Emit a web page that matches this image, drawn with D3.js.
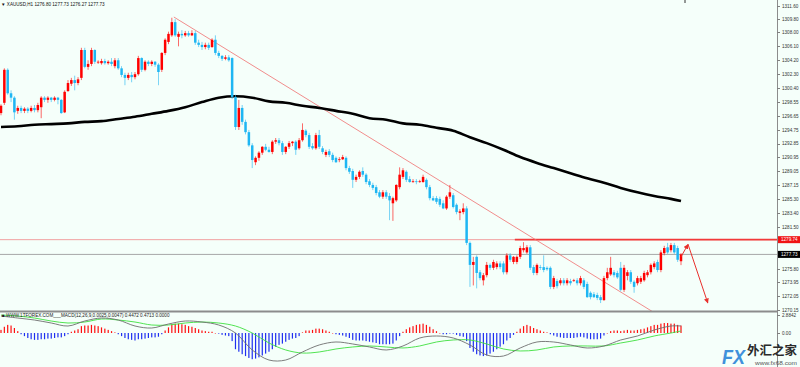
<!DOCTYPE html>
<html lang="en">
<head>
<meta charset="UTF-8">
<title>XAUUSD H1</title>
<script src="https://d3js.org/d3.v7.min.js"></script>
<style>
  body { margin: 0; background: #f5fffa; overflow: hidden; }
  svg { display: block; font-family: "Liberation Sans", Arial, sans-serif; }
  .axis path { display: none; }
  .axis line { stroke: #808080; shape-rendering: crispEdges; }
  .axis text { font-size: 4.6px; fill: #333; }
</style>
</head>
<body>
<div id="chart"></div>
<script>
// XAUUSD H1 bars (oldest first)
const open = [
1297.0,1298.4,1302.9,1299.7,1299.1,1297.3,1297.7,1297.3,1297.6,1297.3,
1297.7,1297.4,1297.8,1299.1,1298.8,1299.1,1298.8,1299.1,1298.8,1297.1,
1300.0,1301.0,1301.5,1301.1,1301.8,1305.6,1303.3,1303.7,1305.6,1304.0,
1303.8,1304.1,1303.8,1304.0,1303.4,1304.2,1303.1,1302.2,1301.8,1302.2,
1301.9,1302.3,1304.5,1302.9,1304.0,1303.7,1304.0,1303.6,1302.9,1305.2,
1306.7,1307.6,1309.4,1307.4,1307.8,1307.6,1307.9,1307.6,1307.9,1306.6,
1306.3,1306.0,1306.3,1306.0,1307.0,1305.2,1304.8,1304.4,1304.6,1304.5,
1299.2,1295.1,1297.7,1295.8,1294.4,1292.6,1290.3,1290.9,1291.6,1292.4,
1292.0,1291.7,1293.1,1293.3,1292.9,1291.7,1292.4,1292.9,1293.1,1292.2,
1293.3,1294.6,1294.0,1292.5,1292.2,1294.0,1292.2,1291.3,1291.8,1291.3,
1290.9,1290.6,1290.7,1290.9,1289.5,1289.1,1287.9,1288.3,1289.1,1288.6,
1287.7,1287.2,1286.9,1286.2,1285.6,1286.2,1285.7,1284.7,1285.1,1286.9,
1288.3,1289.0,1288.0,1287.7,1287.7,1287.6,1287.6,1287.9,1286.9,1285.4,
1285.4,1285.3,1284.7,1284.0,1285.6,1285.8,1284.5,1283.4,1283.5,1284.0,
1279.3,1276.3,1277.4,1275.3,1274.2,1274.9,1276.3,1275.9,1276.0,1276.5,
1276.5,1275.3,1277.6,1276.7,1276.7,1277.4,1278.3,1278.0,1278.7,1276.0,
1275.2,1276.0,1276.0,1275.9,1275.9,1273.3,1274.1,1273.8,1274.2,1273.8,
1274.1,1274.1,1274.2,1273.8,1274.2,1273.7,1272.5,1272.3,1272.2,1271.9,
1271.5,1274.5,1275.0,1275.3,1275.2,1275.9,1272.9,1274.8,1275.3,1274.0,
1273.8,1274.0,1274.2,1274.9,1275.3,1276.0,1276.7,1275.6,1277.9,1278.7,
1278.3,1279.0,1278.6,1276.8];
const high = [
1298.2,1303.1,1303.1,1300.1,1299.3,1298.0,1298.0,1297.8,1297.8,1298.0,
1298.1,1298.4,1299.3,1299.3,1299.3,1299.2,1299.3,1299.2,1298.9,1300.1,
1301.5,1301.8,1302.1,1301.9,1305.9,1305.9,1304.2,1305.9,1305.7,1304.2,
1304.4,1304.4,1304.2,1304.5,1304.5,1304.5,1303.4,1302.5,1302.5,1302.6,
1302.6,1304.8,1304.6,1304.2,1304.2,1304.2,1304.1,1303.8,1305.3,1307.2,
1308.1,1310.0,1309.8,1308.1,1308.3,1308.2,1308.2,1308.3,1308.2,1307.0,
1306.7,1306.6,1306.6,1307.2,1307.6,1305.5,1304.9,1304.9,1304.9,1304.6,
1299.5,1298.8,1298.1,1296.1,1294.7,1292.9,1291.1,1291.8,1292.5,1292.8,
1292.4,1293.3,1293.6,1293.6,1293.2,1292.5,1293.2,1293.2,1293.3,1293.6,
1295.6,1294.8,1294.3,1292.9,1294.3,1294.7,1292.5,1292.0,1292.1,1291.6,
1291.1,1291.0,1291.3,1291.1,1289.8,1289.4,1288.6,1289.2,1289.6,1288.8,
1288.0,1287.5,1287.2,1286.5,1286.5,1286.5,1286.1,1285.6,1287.3,1289.6,
1289.5,1289.2,1288.4,1288.0,1288.0,1287.9,1288.6,1288.1,1287.2,1285.7,
1285.7,1285.6,1285.1,1285.8,1287.2,1286.1,1284.7,1283.9,1284.7,1284.3,
1279.5,1277.4,1277.6,1275.6,1275.2,1276.7,1276.5,1277.0,1276.8,1276.8,
1276.8,1277.9,1277.9,1277.5,1277.6,1278.9,1279.4,1279.0,1279.0,1276.3,
1276.5,1276.3,1277.6,1276.1,1276.1,1274.8,1274.4,1274.5,1274.5,1274.5,
1274.4,1274.4,1274.5,1274.8,1274.5,1274.0,1272.7,1272.6,1272.5,1272.2,
1274.8,1275.9,1277.4,1275.6,1275.5,1276.7,1276.3,1275.6,1275.6,1274.2,
1274.8,1274.8,1275.5,1275.6,1276.5,1276.8,1277.0,1278.3,1278.9,1279.3,
1279.3,1279.3,1278.9,1277.9];
const low = [
1296.7,1298.1,1299.5,1298.5,1296.1,1296.9,1297.0,1297.0,1297.0,1297.1,
1297.1,1297.1,1296.3,1298.5,1298.4,1298.5,1298.6,1298.2,1296.9,1297.0,
1299.9,1300.7,1300.1,1300.8,1301.5,1303.1,1302.9,1303.4,1303.7,1303.7,
1303.6,1303.6,1303.6,1303.4,1303.1,1302.9,1301.9,1300.8,1301.5,1301.2,
1301.6,1302.1,1302.6,1302.7,1303.4,1303.4,1303.3,1300.8,1302.6,1304.9,
1306.4,1307.4,1307.4,1306.1,1307.2,1307.4,1307.4,1307.5,1306.3,1306.0,
1305.6,1305.7,1305.6,1305.9,1304.9,1304.5,1304.1,1304.2,1304.0,1298.9,
1294.7,1294.7,1295.4,1294.1,1292.4,1289.5,1289.9,1290.5,1291.3,1291.8,
1291.6,1291.4,1292.8,1292.6,1291.3,1291.4,1292.1,1292.5,1291.3,1292.0,
1293.1,1293.7,1292.1,1292.0,1292.0,1292.1,1291.4,1291.0,1291.0,1290.3,
1290.2,1290.3,1290.6,1289.2,1288.7,1286.8,1287.6,1288.0,1288.3,1287.3,
1286.9,1286.5,1285.8,1285.4,1285.3,1285.3,1282.4,1282.3,1284.9,1286.6,
1288.0,1287.6,1287.5,1287.5,1287.3,1287.5,1287.5,1286.6,1285.1,1285.0,
1284.6,1284.2,1283.9,1283.8,1285.3,1284.0,1283.2,1282.4,1283.2,1279.0,
1273.3,1273.5,1273.1,1274.2,1273.5,1274.6,1275.6,1275.6,1275.7,1275.7,
1275.0,1275.0,1276.7,1276.4,1276.4,1277.1,1278.0,1277.8,1275.6,1274.9,
1274.9,1275.6,1275.3,1275.5,1273.0,1273.0,1273.1,1273.5,1273.5,1273.5,
1273.5,1274.0,1273.5,1273.5,1273.0,1271.8,1271.6,1271.8,1271.5,1271.1,
1271.4,1274.2,1274.8,1274.6,1274.4,1272.7,1272.6,1274.2,1273.7,1272.5,
1273.5,1273.7,1274.0,1274.6,1275.0,1275.7,1275.3,1275.3,1277.6,1277.8,
1278.0,1277.8,1276.7,1276.27];
const close = [
1298.0,1302.9,1299.7,1299.1,1297.1,1297.7,1297.3,1297.6,1297.3,1297.7,
1297.4,1298.1,1299.1,1298.8,1299.1,1298.8,1299.1,1298.8,1297.0,1299.9,
1301.1,1301.5,1301.1,1301.6,1305.6,1303.3,1303.7,1305.6,1304.0,1304.0,
1304.1,1303.8,1304.0,1303.7,1304.2,1303.1,1302.2,1301.8,1302.2,1301.9,
1302.3,1304.5,1302.9,1304.0,1303.7,1304.0,1303.6,1302.6,1305.2,1307.0,
1307.8,1309.4,1307.6,1307.8,1307.6,1307.9,1307.6,1307.9,1306.6,1306.3,
1306.0,1306.3,1305.9,1307.0,1305.2,1304.8,1304.4,1304.6,1304.2,1299.2,
1295.1,1297.7,1295.8,1294.4,1292.6,1290.6,1290.9,1291.6,1292.4,1292.0,
1291.7,1293.1,1293.3,1292.9,1291.7,1292.4,1292.9,1293.1,1292.0,1293.3,
1294.7,1294.0,1292.4,1292.2,1294.0,1292.4,1291.7,1291.7,1291.3,1290.6,
1290.3,1290.7,1291.0,1289.5,1289.0,1287.9,1288.3,1289.0,1288.6,1287.6,
1287.2,1286.8,1286.1,1285.6,1286.2,1285.6,1285.1,1285.4,1287.2,1288.6,
1289.2,1287.9,1287.6,1287.7,1287.6,1287.7,1288.3,1286.9,1285.4,1285.1,
1284.9,1284.5,1284.0,1285.6,1286.2,1284.2,1283.5,1283.6,1284.0,1279.3,
1276.3,1276.7,1275.2,1274.5,1274.9,1276.3,1275.9,1276.7,1276.5,1276.0,
1275.3,1277.6,1277.0,1277.4,1277.4,1278.6,1278.6,1278.7,1275.9,1275.2,
1276.3,1275.9,1275.6,1275.7,1273.3,1274.5,1273.4,1274.2,1273.8,1274.2,
1273.8,1274.2,1273.8,1274.5,1273.3,1271.9,1271.9,1271.9,1271.8,1271.5,
1274.5,1275.3,1275.9,1274.9,1274.6,1272.9,1275.9,1275.3,1274.0,1273.3,
1274.5,1274.5,1275.2,1275.3,1276.3,1276.5,1275.6,1278.0,1278.6,1278.0,
1279.0,1278.0,1277.0,1277.73];

// moving average + MACD lines sampled at these bar indices
const lineIdx = [0,5,10,15,20,25,30,35,40,45,50,55,60,65,70,75,80,85,90,95,100,
  105,110,115,120,125,130,135,140,145,150,155,160,165,170,175,180,185,190,195,200,203];
const maValues = [1295.1,1295.2,1295.4,1295.5,1295.6,1295.8,1295.9,1296.2,1296.5,1296.9,
  1297.3,1297.8,1298.5,1299.1,1299.3,1299.1,1298.6,1298.4,1298.0,1297.7,1297.3,1296.9,
  1296.3,1296.1,1295.6,1295.4,1295.0,1294.6,1293.7,1292.9,1292.0,1291.0,1290.2,1289.5,
  1288.8,1288.1,1287.5,1286.8,1286.2,1285.7,1285.3,1285.0];
const macdMain = [2.72,2.40,2.08,1.60,1.12,1.92,2.40,2.08,1.12,0.80,1.44,1.92,1.76,1.28,
  0.00,-2.72,-4.33,-4.33,-3.04,-1.92,-1.44,-1.76,-2.24,-2.72,-2.08,-0.80,-0.48,-0.80,
  -1.92,-3.53,-3.69,-2.40,-1.44,-1.44,-1.92,-2.40,-2.08,-1.12,-0.48,0.48,1.12,1.12];
const macdSignal = [2.88,2.72,2.40,1.92,1.60,1.76,2.24,2.08,1.76,1.28,1.28,1.60,1.76,1.60,
  1.12,0.00,-1.60,-2.72,-3.21,-3.04,-2.56,-2.24,-2.08,-2.24,-2.40,-2.08,-1.44,-1.12,
  -1.12,-1.76,-2.56,-2.88,-2.72,-2.24,-2.08,-2.08,-2.08,-1.60,-1.12,-0.48,0.00,0.32];
const macdHist = [
0.5,1.0,1.3,1.2,0.8,0.3,-0.2,-0.5,-0.8,-1.0,
-1.1,-1.1,-1.0,-1.0,-0.9,-0.9,-0.8,-0.7,-0.7,-0.5,
-0.2,0.2,0.4,0.6,1.1,1.2,1.2,1.3,1.2,1.1,
0.9,0.7,0.5,0.3,0.1,-0.2,-0.5,-0.8,-1.0,-1.1,
-1.2,-1.0,-1.0,-0.9,-0.8,-0.7,-0.7,-0.6,-0.2,0.4,
0.9,1.4,1.5,1.5,1.4,1.3,1.1,1.0,0.8,0.6,
0.4,0.3,0.2,0.2,0.0,-0.1,-0.3,-0.4,-0.5,-1.3,
-2.6,-3.0,-3.4,-3.7,-4.0,-4.2,-4.1,-3.9,-3.6,-3.3,
-3.0,-2.6,-2.2,-1.9,-1.7,-1.4,-1.1,-0.9,-0.8,-0.5,
0.1,0.4,0.4,0.5,0.7,0.7,0.6,0.4,0.2,0.0,
-0.2,-0.3,-0.4,-0.6,-0.8,-1.1,-1.2,-1.2,-1.2,-1.3,
-1.4,-1.5,-1.6,-1.8,-1.8,-1.8,-1.8,-1.7,-1.2,-0.5,
0.2,0.6,0.9,1.1,1.3,1.4,1.5,1.3,1.0,0.6,
0.3,0.0,-0.2,-0.2,-0.1,-0.1,-0.3,-0.5,-0.6,-1.3,
-2.4,-3.0,-3.4,-3.6,-3.7,-3.6,-3.3,-3.0,-2.6,-2.2,
-1.8,-1.2,-0.8,-0.3,0.2,0.7,1.1,1.3,1.1,0.8,
0.6,0.4,0.2,0.1,-0.2,-0.4,-0.6,-0.7,-0.8,-0.8,
-0.8,-0.8,-0.7,-0.6,-0.7,-0.9,-1.0,-1.0,-1.0,-0.9,
-0.4,0.0,0.3,0.4,0.4,0.3,0.4,0.5,0.4,0.4,
0.5,0.6,0.7,0.9,1.1,1.3,1.3,1.5,1.6,1.6,
1.5,1.5,1.3,1.2];

const priceTicks = [1311.60,1309.80,1308.00,1306.10,1304.20,1302.30,1300.40,1298.55,1296.65,
  1294.75,1292.85,1290.95,1289.05,1287.15,1285.30,1283.40,1281.50,1275.80,1273.95,1272.05,1270.15];
const macdTicks = [2.8842, 0];
const macdTickLabels = ["2.8842", "0.00"];

// drawn objects
const resistance = 1279.74;
const bid = 1277.73;
const trendLine = [{ i: 51.6, p: 1310.1 }, { i: 194.6, p: 1269.9 }];
const arrowPath = [{ i: 203, p: 1277.4 }, { i: 205.1, p: 1279.1 }, { i: 211.0, p: 1271.1 }];
const headerText = "XAUUSD,H1  1276.80 1277.73 1276.27 1277.73";
const macdTitle = "WWW.1TFOREX.COM___MACD(12,26,9,0.0025,0.0047) 0.4472 0.4713 0.0000";

const width = 800, height = 367;
const axisX = 777;
const mainBottom = 311, subTop = 313;
const bull = "#ff0000", bear = "#1eb6f3";

const svg = d3.select("#chart").append("svg")
    .attr("width", width)
    .attr("height", height);

svg.append("rect").attr("width", width).attr("height", height).attr("fill", "#f5fffa");

const x = d3.scaleLinear().domain([0, 203]).range([1, 681]);
const y = d3.scaleLinear().domain([1270.15, 1311.60]).range([310, 6]);
const ym = d3.scaleLinear().domain([0, 2.8842]).range([333, 315]);

const defs = svg.append("defs");
defs.append("clipPath").attr("id", "clipMain")
  .append("rect").attr("x", 0).attr("y", 0).attr("width", axisX).attr("height", mainBottom);
defs.append("clipPath").attr("id", "clipSub")
  .append("rect").attr("x", 0).attr("y", subTop).attr("width", axisX).attr("height", height - subTop);
defs.append("marker").attr("id", "arrowHead")
    .attr("viewBox", "0 0 10 10").attr("refX", 9).attr("refY", 5)
    .attr("markerWidth", 5).attr("markerHeight", 5).attr("orient", "auto")
  .append("path").attr("d", "M0,0 L10,5 L0,10 z").attr("fill", "#e8302c");

const main = svg.append("g").attr("clip-path", "url(#clipMain)");

// horizontal levels
main.append("line")
    .attr("x1", 0).attr("x2", axisX).attr("y1", y(bid)).attr("y2", y(bid))
    .attr("stroke", "#a8a8a8").attr("stroke-width", 1);
main.append("line")
    .attr("x1", 0).attr("x2", axisX).attr("y1", y(resistance)).attr("y2", y(resistance))
    .attr("stroke", "#f08a8a").attr("stroke-width", 0.8);
main.append("line")
    .attr("x1", x(153.4)).attr("x2", axisX).attr("y1", y(resistance)).attr("y2", y(resistance))
    .attr("stroke", "#f23a3a").attr("stroke-width", 1.6);

// trend line
main.append("line")
    .attr("x1", x(trendLine[0].i)).attr("y1", y(trendLine[0].p))
    .attr("x2", x(trendLine[1].i)).attr("y2", y(trendLine[1].p))
    .attr("stroke", "#f07070").attr("stroke-width", 0.8);

// moving average
const maData = lineIdx.map((d, k) => ({ i: d, v: maValues[k] }));
main.append("path")
    .datum(maData)
    .attr("fill", "none")
    .attr("stroke", "#000")
    .attr("stroke-width", 2.6)
    .attr("d", d3.line().x(d => x(d.i)).y(d => y(d.v)).curve(d3.curveCatmullRom));

// candles
const bars = open.map((o, i) => ({ i, o, h: high[i], l: low[i], c: close[i] }));
const candle = main.selectAll(".candle").data(bars).enter().append("g");
candle.append("line")
    .attr("x1", d => x(d.i)).attr("x2", d => x(d.i))
    .attr("y1", d => y(d.h)).attr("y2", d => y(d.l))
    .attr("stroke", d => d.c >= d.o ? bull : bear)
    .attr("stroke-width", 0.8)
    .attr("opacity", 0.75);
candle.append("rect")
    .attr("x", d => x(d.i) - 1.25)
    .attr("width", 2.5)
    .attr("y", d => y(Math.max(d.o, d.c)))
    .attr("height", d => Math.max(0.8, Math.abs(y(d.o) - y(d.c))))
    .attr("fill", d => d.c >= d.o ? bull : bear);

// forecast arrow
const arrowLine = d3.line().x(d => x(d.i)).y(d => y(d.p));
main.append("path")
    .attr("d", arrowLine(arrowPath.slice(0, 2)))
    .attr("stroke", "#e8302c").attr("stroke-width", 1).attr("fill", "none")
    .attr("marker-end", "url(#arrowHead)");
main.append("path")
    .attr("d", arrowLine(arrowPath.slice(1)))
    .attr("stroke", "#e8302c").attr("stroke-width", 1).attr("fill", "none")
    .attr("marker-end", "url(#arrowHead)");

// MACD panel
const sub = svg.append("g").attr("clip-path", "url(#clipSub)");
sub.selectAll(".hist").data(macdHist).enter().append("rect")
    .attr("x", (d, i) => x(i) - 0.6)
    .attr("width", 1.2)
    .attr("y", d => d >= 0 ? ym(d) : ym(0))
    .attr("height", d => Math.max(0.5, Math.abs(ym(d) - ym(0))))
    .attr("fill", d => d >= 0 ? "#ff1010" : "#1f2ff0");

const mLine = d3.line().x(d => x(d.i)).y(d => ym(d.v)).curve(d3.curveCatmullRom);
sub.append("path")
    .datum(lineIdx.map((d, k) => ({ i: d, v: macdSignal[k] })))
    .attr("fill", "none").attr("stroke", "#3ee03e").attr("stroke-width", 0.9)
    .attr("d", mLine);
sub.append("path")
    .datum(lineIdx.map((d, k) => ({ i: d, v: macdMain[k] })))
    .attr("fill", "none").attr("stroke", "#6e6e6e").attr("stroke-width", 0.9)
    .attr("d", mLine);

sub.append("text")
    .attr("x", 2).attr("y", 317)
    .attr("font-size", 4.6).attr("fill", "#222")
    .text("\u25A0 " + macdTitle);

// separator and axis line
svg.append("line")
    .attr("x1", 0).attr("x2", axisX).attr("y1", 311.5).attr("y2", 311.5)
    .attr("stroke", "#8c8c8c").attr("stroke-width", 2);
svg.append("line")
    .attr("x1", axisX + 0.5).attr("x2", axisX + 0.5).attr("y1", 0).attr("y2", height)
    .attr("stroke", "#8c8c8c").attr("stroke-width", 1);

svg.append("g").attr("class", "axis")
    .attr("transform", `translate(${axisX},0)`)
    .call(d3.axisRight(y).tickValues(priceTicks).tickSize(3).tickPadding(2)
      .tickFormat(d3.format(".2f")));
svg.append("g").attr("class", "axis")
    .attr("transform", `translate(${axisX},0)`)
    .call(d3.axisRight(ym).tickValues(macdTicks).tickSize(3).tickPadding(2)
      .tickFormat((d, k) => macdTickLabels[k]));

// price labels on the axis
[[resistance, "#f01414"], [bid, "#000"]].forEach(([p, col]) => {
  svg.append("rect").attr("x", axisX + 1).attr("y", y(p) - 3.5)
     .attr("width", width - axisX - 1).attr("height", 7).attr("fill", col);
  svg.append("text").attr("x", axisX + 4).attr("y", y(p) + 1.6)
     .attr("font-size", 4.6).attr("fill", "#fff").text(p.toFixed(2));
});

// header
svg.append("text").attr("x", 1).attr("y", 6)
    .attr("font-size", 4.6).attr("fill", "#111")
    .text("\u25BC " + headerText);
svg.append("line").attr("x1", 685).attr("x2", 685).attr("y1", 0).attr("y2", 3)
    .attr("stroke", "#333").attr("stroke-width", 1);

// watermark
const wm = svg.append("g");
wm.append("text").attr("x", 722).attr("y", 364)
    .attr("font-size", 21).attr("font-weight", "bold").attr("font-style", "italic")
    .attr("textLength", 23).attr("lengthAdjust", "spacingAndGlyphs")
    .attr("fill", "#2c86d8").attr("opacity", 0.9).text("FX");
wm.append("text").attr("x", 747).attr("y", 355)
    .attr("font-family", "Noto Sans CJK SC").attr("font-size", 12).attr("font-weight", "bold")
    .attr("textLength", 50).attr("lengthAdjust", "spacingAndGlyphs")
    .attr("fill", "#2a2a2a").text("外汇之家");
wm.append("text").attr("x", 755).attr("y", 364.5)
    .attr("font-size", 6).attr("textLength", 42).attr("lengthAdjust", "spacingAndGlyphs")
    .attr("fill", "#555").text("www.fx68.com");
</script>
</body>
</html>
